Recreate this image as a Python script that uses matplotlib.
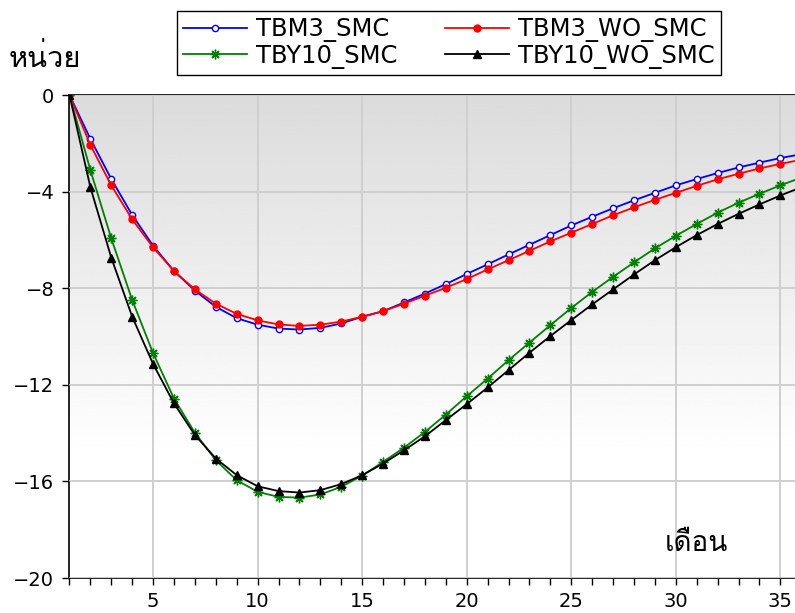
import numpy as np
import matplotlib
matplotlib.use("Agg")
from matplotlib import pyplot as plt
from matplotlib import font_manager
from matplotlib.ft2font import FT2Font

months = list(range(1, 37))
tbm3_smc = [0, -1.82, -3.48, -4.97, -6.24, -7.29, -8.10, -8.77, -9.24, -9.51, -9.67, -9.71,
            -9.64, -9.46, -9.18, -8.95, -8.59, -8.22, -7.83, -7.41, -7.01, -6.60, -6.20, -5.80,
            -5.40, -5.04, -4.69, -4.36, -4.05, -3.74, -3.48, -3.23, -3.00, -2.80, -2.61, -2.45]
tbm3_wo_smc = [0, -2.07, -3.74, -5.15, -6.31, -7.29, -8.05, -8.64, -9.06, -9.33, -9.50, -9.56,
               -9.51, -9.38, -9.18, -8.95, -8.64, -8.31, -7.98, -7.62, -7.22, -6.84, -6.45, -6.06,
               -5.70, -5.34, -4.98, -4.65, -4.34, -4.05, -3.76, -3.49, -3.26, -3.04, -2.85, -2.68]
tby10_smc = [0, -3.11, -5.94, -8.49, -10.69, -12.57, -13.99, -15.12, -15.95, -16.43, -16.64, -16.67,
             -16.54, -16.22, -15.76, -15.19, -14.60, -13.95, -13.23, -12.47, -11.74, -10.98, -10.25, -9.53,
             -8.82, -8.15, -7.53, -6.93, -6.35, -5.83, -5.34, -4.87, -4.46, -4.09, -3.74, -3.42]
tby10_wo_smc = [0, -3.82, -6.74, -9.18, -11.14, -12.77, -14.08, -15.05, -15.74, -16.20, -16.40, -16.46,
                -16.36, -16.11, -15.74, -15.26, -14.71, -14.13, -13.46, -12.80, -12.11, -11.39, -10.67, -9.98,
                -9.32, -8.67, -8.05, -7.43, -6.84, -6.30, -5.80, -5.34, -4.92, -4.53, -4.16, -3.82]
y_label = "หน่วย"
x_label = "เดือน"


def find_thai_font():
    # installed font files with Thai glyphs, lightest weight first
    found = []
    for f in font_manager.fontManager.ttflist:
        try:
            cmap = FT2Font(f.fname).get_charmap()
        except Exception:
            continue
        if all(ord(c) in cmap for c in y_label + x_label):
            w = f.weight
            if isinstance(w, str):
                w = font_manager.weight_dict.get(w, 400)
            found.append((abs(w - 400), f.style != "normal", f.fname))
    if not found:
        return None
    found.sort()
    return found[0][2]


thai_path = find_thai_font()
plt.rcParams["font.family"] = ["DejaVu Sans"]


def thai_prop(size):
    if thai_path:
        return font_manager.FontProperties(fname=thai_path, size=size)
    return font_manager.FontProperties(size=size)


fig = plt.figure(figsize=(7.95, 6.13), dpi=100)
ax = fig.add_axes([0.0874, 0.057, 0.9126, 0.788])

# grey-to-white background gradient
grad = np.clip(np.linspace(0, 1, 256) / 0.75, 0, 1)
grad = 0.86 + 0.14 * grad
ax.imshow(grad[:, None], cmap="gray", vmin=0, vmax=1, aspect="auto",
          extent=(1, 35.7, -20, 0), zorder=0)

l1, = ax.plot(months, tbm3_smc, color="blue", lw=1.3, marker="o", ms=4.5,
              mfc="white", mec="blue", mew=1.0, label="TBM3_SMC", zorder=3)
l2, = ax.plot(months, tbm3_wo_smc, color="red", lw=1.3, marker="o", ms=5,
              mfc="red", mec="red", label="TBM3_WO_SMC", zorder=3)
l3, = ax.plot(months, tby10_smc, color="green", lw=1.3, marker=(8, 2, 0), ms=7,
              mec="green", mew=1.0, label="TBY10_SMC", zorder=3)
l4, = ax.plot(months, tby10_wo_smc, color="black", lw=1.3, marker="^", ms=5.5,
              mfc="black", mec="black", label="TBY10_WO_SMC", zorder=3)

ax.set_xlim(1, 35.7)
ax.set_ylim(-20, 0)
ax.set_xticks([5, 10, 15, 20, 25, 30, 35])
ax.set_xticks(range(1, 36), minor=True)
ax.set_yticks([0, -4, -8, -12, -16, -20])
ax.tick_params(axis="both", which="both", direction="out", length=5, width=1,
               labelsize=14, pad=6)
ax.tick_params(axis="x", which="major", pad=5)
ax.grid(True, which="major", color="#cfcfcf", lw=1.4, zorder=1)
ax.set_axisbelow(False)
for s in ("left", "bottom", "top"):
    ax.spines[s].set_linewidth(1.2)
ax.spines["right"].set_visible(False)

ax.text(31.0, -18.6, x_label, fontproperties=thai_prop(20),
        ha="center", va="center")
fig.text(0.057, 0.905, y_label, fontproperties=thai_prop(21),
         ha="center", va="center")

# row-wise order: matplotlib fills legend columns first
leg = fig.legend([l1, l3, l2, l4],
                 [l1.get_label(), l3.get_label(), l2.get_label(), l4.get_label()],
                 loc="lower left", bbox_to_anchor=(0.223, 0.878, 0.684, 0.101),
                 bbox_transform=fig.transFigure, mode="expand", ncol=2,
                 fontsize=17.5, fancybox=False, edgecolor="black", framealpha=1,
                 handlelength=2.6, borderaxespad=0, labelspacing=0.05,
                 borderpad=0.25, handletextpad=0.4)
leg.get_frame().set_linewidth(1.0)

fig.savefig("out.png", dpi=100)
